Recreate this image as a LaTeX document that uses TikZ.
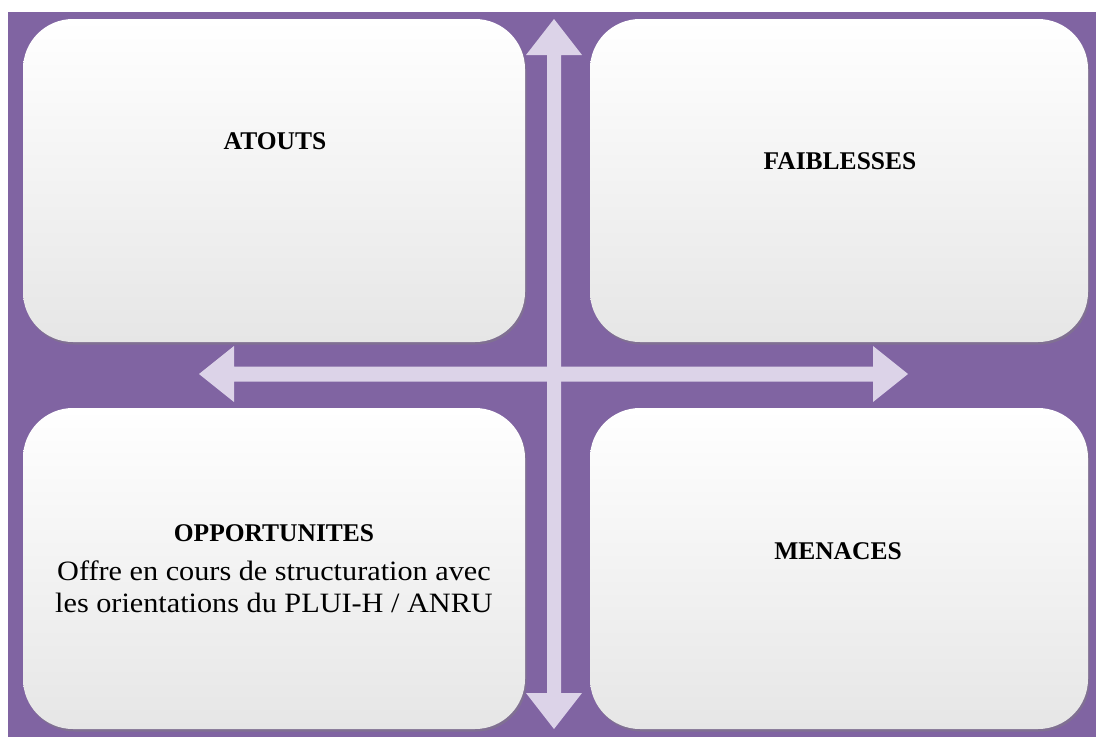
\documentclass[tikz,border=0pt]{standalone}
\usepackage{fontspec}
\setmainfont{Liberation Serif}
\newfontfamily\bodyfont[FakeStretch=1.08]{Liberation Serif}
\usetikzlibrary{shadows}
\definecolor{bgpurple}{HTML}{8064A2}
\definecolor{arrowlav}{HTML}{DCD3E8}
\definecolor{boxbottom}{HTML}{E6E6E6}
\begin{document}
\begin{tikzpicture}[x=1pt,y=-1pt,
  swotbox/.style={rounded corners=50pt, minimum width=502pt, minimum height=323pt,
    inner sep=0pt, outer sep=0pt, top color=white, bottom color=boxbottom, draw=none,
    drop shadow={shadow xshift=1.5pt, shadow yshift=-2.5pt, opacity=0.45}},
  heading/.style={font=\fontsize{25.5}{30}\selectfont\bfseries, anchor=base, inner sep=0pt},
  bodytext/.style={font=\bodyfont\fontsize{28}{32}\selectfont, anchor=base, inner sep=0pt},
  lavarrow/.style={fill=arrowlav, draw=none}]
\useasboundingbox (0,0) rectangle (1096,737);
\fill[bgpurple] (8,12) rectangle (1096,737);
% boxes
\node[swotbox] (atoutsbox) at (274,180.5) {};
\node[swotbox, minimum width=498pt] (faibbox) at (839,180.5) {};
\node[swotbox, minimum height=321pt] (oppbox) at (274,568.5) {};
\node[swotbox, minimum width=498pt, minimum height=321pt] (menbox) at (839,568.5) {};
% arrows
\coordinate (vt) at (554,19);
\coordinate (vb) at (554,729);
\coordinate (hl) at (199,374);
\coordinate (hr) at (908,374);
\fill[lavarrow] (vt) -- (582,55) -- (561,55) -- (561,693) -- (582,693) -- (vb)
  -- (526,693) -- (547,693) -- (547,55) -- (526,55) -- cycle;
\fill[lavarrow] (hl) -- (234,346) -- (234,366.5) -- (873,366.5) -- (873,346) -- (hr)
  -- (873,402) -- (873,381.5) -- (234,381.5) -- (234,402) -- cycle;
% texts
\node[heading] (atouts) at (275,149) {ATOUTS};
\node[heading] (faib) at (840,169) {FAIBLESSES};
\node[heading] (opp) at (274,541) {OPPORTUNITES};
\node[heading] (men) at (838,559) {MENACES};
\node[bodytext] (opp1) at (274,580) {Offre en cours de structuration avec};
\node[bodytext] (opp2) at (274,612) {les orientations du PLUI-H / ANRU};
\end{tikzpicture}
\end{document}
